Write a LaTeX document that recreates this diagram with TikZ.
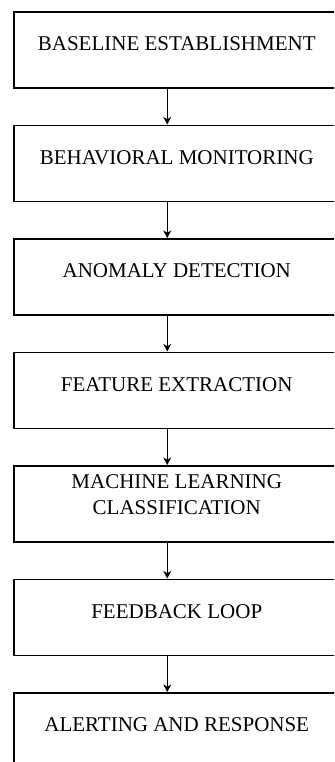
\documentclass[tikz,border=0pt]{standalone}
\usepackage{fontspec}
\setmainfont{Liberation Serif}
\usetikzlibrary{positioning,arrows.meta}

\begin{document}
\begin{tikzpicture}[x=1pt, y=1pt, node distance=18pt,
		etapa/.style={draw, line width=0.75pt, minimum width=163pt, minimum height=38pt,
			inner sep=0pt, text height=19.5pt, text depth=18.5pt, align=center,
			font=\fontsize{10.5}{13}\selectfont},
		flecha/.style={-{Stealth[length=3.8pt,width=4pt,inset=1.2pt]}, line width=0.7pt}]
		\useasboundingbox (0,0) rectangle (167,-381);
		\clip (0,0) rectangle (167,-381);
		
		% Etapas del proceso
		\node[etapa, anchor=north west] (base) at (6.5,-5.5) {BASELINE ESTABLISHMENT};
		\node[etapa, below=of base] (monitoreo) {BEHAVIORAL MONITORING};
		\node[etapa, below=of monitoreo] (anomalia) {ANOMALY DETECTION};
		\node[etapa, below=of anomalia] (extraccion) {FEATURE EXTRACTION};
		\node[etapa, below=of extraccion, text height=24.5pt, text depth=13.5pt] (clasif) {MACHINE LEARNING\\CLASSIFICATION};
		\node[etapa, below=of clasif] (retro) {FEEDBACK LOOP};
		\node[etapa, below=of retro] (alerta) {ALERTING AND RESPONSE};
		
		% Flechas entre etapas
		\foreach \a/\b in {base/monitoreo, monitoreo/anomalia, anomalia/extraccion,
			extraccion/clasif, clasif/retro, retro/alerta}
			\draw[flecha] ([xshift=-4.75pt]\a.south) -- ([xshift=-4.75pt]\b.north);
		
	\end{tikzpicture}
\end{document}
